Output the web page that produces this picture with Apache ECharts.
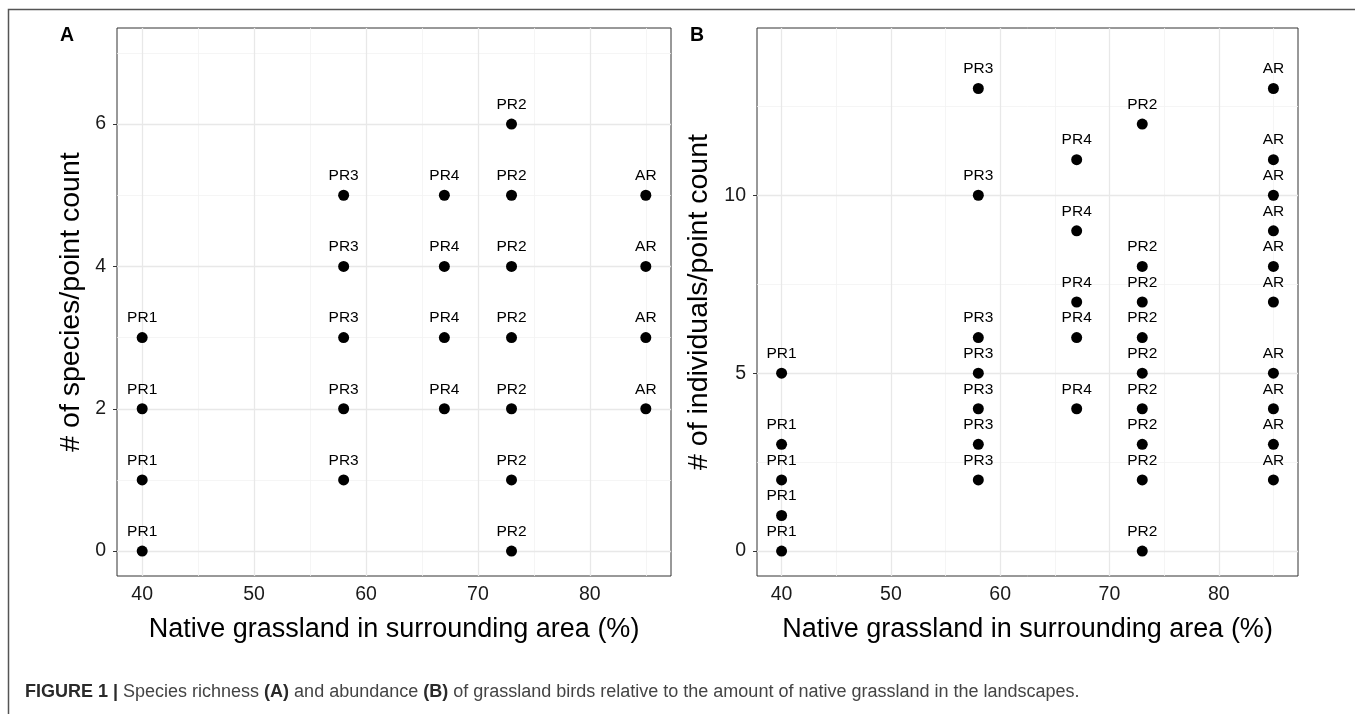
<!DOCTYPE html>
<html>
<head>
<meta charset="utf-8">
<script src="https://cdn.jsdelivr.net/npm/echarts@6/dist/echarts.min.js"></script>
<style>
html,body{margin:0;padding:0;background:#fff;}
#chart{width:1355px;height:714px;}
</style>
</head>
<body>
<div id="chart"></div>
<script>
// ---- Data ----
const sites = ['PR1', 'PR3', 'PR4', 'PR2', 'AR'];
const grassland = [40, 58, 67, 73, 85];
// Panel A: species richness per point count
const richnessPR1 = [0, 1, 2, 3];
const richnessPR3 = [1, 2, 3, 4, 5];
const richnessPR4 = [2, 3, 4, 5];
const richnessPR2 = [0, 1, 2, 3, 4, 5, 6];
const richnessAR  = [2, 3, 4, 5];
// Panel B: abundance per point count
const abundancePR1 = [0, 1, 2, 3, 5];
const abundancePR3 = [2, 3, 4, 5, 6, 10, 13];
const abundancePR4 = [4, 6, 7, 9, 11];
const abundancePR2 = [0, 2, 3, 4, 5, 6, 7, 8, 12];
const abundanceAR  = [2, 3, 4, 5, 7, 8, 9, 10, 11, 13];
// Tick labels
const xTicks = [40, 50, 60, 70, 80];
const xMinorGrid = [45, 55, 65, 75, 85];
const yTicksA = [0, 2, 4, 6];
const yMinorA = [1, 3, 5, 7];
const yTicksB = [0, 5, 10];
const yMinorB = [2.5, 7.5, 12.5];
const xTitle = 'Native grassland in surrounding area (%)';
const yTitleA = '# of species/point count';
const yTitleB = '# of individuals/point count';

const richness = [richnessPR1, richnessPR3, richnessPR4, richnessPR2, richnessAR];
const abundance = [abundancePR1, abundancePR3, abundancePR4, abundancePR2, abundanceAR];

function pts(groups) {
  const out = [];
  groups.forEach((vals, i) => vals.forEach(v => out.push([grassland[i], v, sites[i]])));
  return out;
}

const FONT = '"Liberation Sans", Arial, Helvetica, sans-serif';

function gridLines(xIdx, major, minor, xMaj, xMin) {
  const ml = (arr, key, color, width) => arr.map(v => ({ [key]: v, lineStyle: { color: color, width: width, type: 'solid' } }));
  return {
    type: 'scatter', xAxisIndex: xIdx, yAxisIndex: xIdx, data: [], silent: true, z: 0,
    markLine: {
      silent: true, symbol: 'none', animation: false, label: { show: false },
      emphasis: { disabled: true },
      data: [].concat(
        ml(xMin, 'xAxis', '#F3F3F3', 0.8),
        ml(minor, 'yAxis', '#F3F3F3', 0.8),
        ml(xMaj, 'xAxis', '#E8E8E8', 1.3),
        ml(major, 'yAxis', '#E8E8E8', 1.3)
      )
    }
  };
}

function pointSeries(idx, groups) {
  return {
    type: 'scatter', xAxisIndex: idx, yAxisIndex: idx, z: 5,
    data: pts(groups), symbol: 'circle', symbolSize: 11,
    itemStyle: { color: '#000', opacity: 1 },
    label: {
      show: true, position: 'top', distance: 6,
      formatter: p => p.data[2],
      fontFamily: FONT, fontSize: 15.5, color: '#000', opacity: 1
    },
    labelLayout: { hideOverlap: false },
    emphasis: { disabled: true }
  };
}

function xAxisDef(idx) {
  return {
    type: 'value', gridIndex: idx, min: 37.75, max: 87.25,
    name: xTitle, nameLocation: 'middle', nameGap: 40,
    nameTextStyle: { fontFamily: FONT, fontSize: 27, color: '#000' },
    axisLine: { show: false },
    axisTick: { show: true, length: 4, lineStyle: { color: '#333', width: 1 }, customValues: xTicks },
    axisLabel: { customValues: xTicks, fontFamily: FONT, fontSize: 19.5, color: '#1a1a1a', margin: 9 },
    splitLine: { show: false }
  };
}

function yAxisDef(idx, min, max, ticks, title, gap) {
  return {
    type: 'value', gridIndex: idx, min: min, max: max,
    name: title, nameLocation: 'middle', nameGap: gap, nameRotate: 90,
    nameTextStyle: { fontFamily: FONT, fontSize: 28.5, color: '#000' },
    axisLine: { show: false },
    axisTick: { show: true, length: 4, lineStyle: { color: '#333', width: 1 }, customValues: ticks },
    axisLabel: { customValues: ticks, fontFamily: FONT, fontSize: 19.5, color: '#1a1a1a', margin: 11 },
    splitLine: { show: false }
  };
}

const chart = echarts.init(document.getElementById('chart'), null, { renderer: 'canvas' });
chart.setOption({
  backgroundColor: '#fff',
  animation: false,
  grid: [
    { left: 117, top: 28, width: 554, height: 548, show: true, borderColor: '#333', borderWidth: 1, backgroundColor: 'transparent', z: 3 },
    { left: 757, top: 28, width: 541, height: 548, show: true, borderColor: '#333', borderWidth: 1, backgroundColor: 'transparent', z: 3 }
  ],
  xAxis: [xAxisDef(0), xAxisDef(1)],
  yAxis: [
    yAxisDef(0, -0.35, 7.35, yTicksA, yTitleA, 31),
    yAxisDef(1, -0.7, 14.7, yTicksB, yTitleB, 43)
  ],
  title: [
    { text: 'A', left: 60, top: 26, padding: 0, textStyle: { fontFamily: FONT, fontSize: 19.5, fontWeight: 'bold', color: '#000' } },
    { text: 'B', left: 690, top: 26, padding: 0, textStyle: { fontFamily: FONT, fontSize: 19.5, fontWeight: 'bold', color: '#000' } },
    {
      text: '{b|FIGURE 1 |} {r|Species richness }{b|(A)}{r| and abundance }{b|(B)}{r| of grassland birds relative to the amount of native grassland in the landscapes.}',
      left: 25, top: 683, padding: 0,
      textStyle: {
        fontFamily: FONT, fontSize: 18, fontWeight: 'normal', color: '#444',
        rich: {
          b: { fontFamily: FONT, fontSize: 18, fontWeight: 'bold', color: '#2a2a2a' },
          r: { fontFamily: FONT, fontSize: 18, fontWeight: 'normal', color: '#444' }
        }
      }
    }
  ],
  graphic: [
    { type: 'polyline', shape: { points: [[8.5, 714], [8.5, 9.5], [1355, 9.5]] }, style: { stroke: '#555', lineWidth: 1.5, fill: null }, silent: true }
  ],
  series: [
    gridLines(0, yTicksA, yMinorA, xTicks, xMinorGrid),
    gridLines(1, yTicksB, yMinorB, xTicks, xMinorGrid),
    pointSeries(0, richness),
    pointSeries(1, abundance)
  ]
});
</script>
</body>
</html>
